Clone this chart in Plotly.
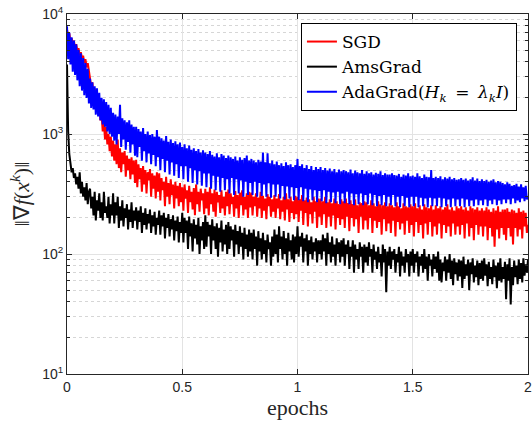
import numpy as np
import plotly.graph_objects as go

# epochs axis: 401 samples from 0 to 2
epochs = np.linspace(0, 2, 401)

# gradient norm values (step 0.005 epoch, 20 per row)
sgd = [
    7400, 6600, 6900, 5900, 6300, 5600, 6000, 5200, 5600, 4900, 5200, 4500, 4800, 4300, 4500, 3900, 4200, 3600, 3900, 3300,
    3000, 2500, 2700, 2200, 2400, 1900, 2100, 1600, 1800, 1300, 1450, 1050, 1250, 900, 1150, 820, 1000, 720, 950, 650,
    880, 600, 820, 560, 900, 520, 760, 480, 700, 560, 720, 440, 660, 500, 620, 420, 640, 460, 600, 390,
    610, 360, 560, 420, 520, 330, 540, 380, 500, 320, 480, 410, 510, 300, 470, 350, 450, 290, 480, 330,
    470, 280, 430, 340, 400, 250, 440, 300, 390, 260, 420, 310, 380, 240, 400, 290, 370, 250, 390, 270,
    360, 230, 380, 290, 340, 220, 370, 270, 330, 235, 355, 210, 380, 260, 330, 225, 350, 280, 320, 215,
    350, 240, 330, 210, 360, 260, 320, 225, 345, 205, 330, 270, 310, 220, 340, 240, 300, 210, 330, 250,
    345, 215, 320, 260, 300, 205, 335, 240, 310, 200, 325, 255, 340, 210, 300, 235, 320, 200, 330, 245,
    325, 210, 300, 250, 320, 205, 295, 240, 330, 200, 305, 230, 290, 195, 315, 250, 300, 205, 285, 225,
    310, 200, 290, 240, 315, 195, 280, 225, 300, 190, 320, 235, 285, 185, 300, 220, 275, 195, 305, 215,
    300, 185, 285, 230, 310, 175, 280, 220, 295, 170, 285, 215, 270, 180, 300, 225, 275, 165, 290, 205,
    290, 175, 275, 215, 300, 165, 270, 205, 285, 170, 265, 210, 290, 160, 275, 200, 260, 175, 285, 195,
    275, 165, 290, 205, 265, 155, 280, 200, 260, 170, 285, 195, 255, 150, 270, 205, 265, 160, 275, 190,
    270, 160, 255, 200, 280, 150, 265, 190, 250, 165, 275, 185, 260, 145, 255, 195, 270, 155, 250, 180,
    265, 150, 255, 190, 245, 140, 270, 185, 250, 160, 240, 180, 265, 145, 250, 190, 245, 150, 260, 175,
    250, 140, 265, 185, 240, 150, 255, 175, 235, 135, 260, 180, 245, 145, 240, 185, 255, 140, 235, 170,
    255, 145, 240, 180, 250, 135, 235, 175, 245, 150, 260, 170, 235, 140, 245, 180, 230, 145, 250, 170,
    240, 145, 250, 175, 235, 135, 245, 180, 230, 140, 250, 165, 240, 130, 235, 175, 245, 145, 230, 170,
    240, 140, 230, 170, 245, 130, 235, 165, 225, 140, 240, 115, 230, 160, 250, 135, 225, 165, 235, 145,
    235, 130, 240, 165, 225, 140, 235, 120, 230, 165, 220, 140, 240, 160, 225, 135, 230, 170, 220, 150,
    175,
]

amsgrad = [
    3800, 1050, 680, 560, 480, 520, 430, 470, 380, 440, 350, 480, 320, 400, 300, 360, 280, 390, 260, 330,
    350, 240, 300, 210, 330, 190, 280, 230, 320, 200, 270, 190, 330, 220, 250, 200, 300, 180, 260, 210,
    320, 180, 270, 210, 300, 165, 250, 190, 280, 170, 240, 200, 260, 160, 235, 185, 270, 165, 230, 190,
    245, 160, 230, 185, 250, 150, 220, 175, 240, 160, 215, 180, 235, 150, 210, 170, 225, 145, 200, 175,
    230, 145, 210, 170, 220, 135, 200, 165, 215, 140, 195, 160, 210, 130, 190, 155, 205, 125, 185, 150,
    220, 125, 200, 150, 190, 110, 205, 140, 180, 105, 195, 135, 175, 120, 200, 100, 170, 130, 185, 110,
    210, 115, 185, 140, 175, 100, 195, 130, 170, 110, 180, 95, 165, 125, 190, 105, 160, 120, 175, 100,
    185, 110, 170, 130, 160, 95, 175, 120, 155, 100, 170, 115, 150, 90, 165, 110, 145, 95, 160, 105,
    150, 90, 160, 110, 140, 80, 155, 105, 135, 90, 150, 100, 130, 85, 145, 110, 125, 80, 140, 95,
    160, 100, 145, 85, 170, 110, 140, 90, 155, 100, 135, 80, 150, 105, 130, 90, 145, 85, 140, 100,
    170, 95, 140, 115, 150, 85, 135, 105, 145, 80, 130, 100, 140, 90, 125, 105, 135, 85, 130, 100,
    130, 90, 145, 105, 135, 80, 150, 100, 125, 85, 140, 95, 120, 80, 135, 100, 125, 85, 130, 95,
    135, 80, 120, 100, 130, 75, 115, 95, 130, 70, 120, 90, 110, 75, 125, 95, 115, 70, 120, 85,
    115, 80, 125, 95, 110, 70, 120, 90, 105, 75, 115, 85, 100, 65, 120, 85, 110, 48, 105, 80,
    115, 75, 105, 90, 110, 70, 100, 85, 115, 65, 105, 80, 95, 70, 110, 85, 100, 65, 105, 80,
    110, 70, 100, 85, 105, 65, 95, 80, 100, 70, 110, 75, 95, 60, 100, 80, 90, 65, 100, 75,
    95, 70, 105, 60, 90, 58, 85, 72, 95, 60, 90, 70, 100, 62, 88, 55, 92, 68, 85, 60,
    90, 65, 88, 52, 95, 62, 82, 66, 90, 50, 85, 68, 92, 58, 80, 64, 88, 55, 84, 62,
    88, 60, 92, 66, 82, 54, 86, 62, 78, 56, 90, 64, 80, 52, 85, 60, 92, 58, 78, 62,
    86, 42, 82, 60, 92, 38, 78, 55, 88, 64, 80, 56, 90, 62, 84, 58, 92, 66, 82, 70,
    90,
]

adagrad = [
    7900, 4200, 7000, 3800, 6400, 3300, 6000, 3100, 5600, 2800, 5000, 2500, 4700, 2300, 4300, 2100, 3900, 2000, 3500, 1800,
    2900, 1650, 2700, 1600, 2500, 1450, 2400, 1400, 2200, 1300, 2000, 1200, 1950, 1150, 1850, 1050, 1750, 1000, 1650, 950,
    1500, 880, 1450, 820, 1400, 1000, 1750, 780, 1350, 900, 1300, 740, 1250, 860, 1300, 700, 1200, 820, 1150, 660,
    1150, 640, 1100, 780, 1050, 600, 1120, 720, 1000, 580, 1050, 690, 980, 560, 1000, 670, 950, 540, 1080, 640,
    950, 500, 920, 620, 880, 480, 960, 600, 860, 460, 900, 580, 840, 450, 870, 560, 820, 430, 850, 540,
    780, 420, 820, 540, 760, 400, 800, 520, 740, 390, 760, 500, 720, 380, 750, 490, 700, 370, 730, 470,
    700, 360, 680, 470, 720, 350, 670, 450, 650, 340, 690, 440, 640, 330, 680, 430, 660, 340, 630, 420,
    660, 320, 640, 430, 620, 310, 650, 420, 600, 320, 640, 410, 610, 300, 630, 400, 660, 310, 600, 390,
    620, 310, 600, 400, 580, 300, 610, 390, 590, 305, 700, 380, 580, 300, 690, 390, 570, 295, 600, 380,
    560, 300, 590, 380, 550, 290, 570, 370, 540, 285, 580, 365, 550, 290, 560, 360, 530, 280, 550, 355,
    620, 280, 540, 360, 560, 275, 520, 350, 550, 270, 510, 345, 540, 280, 500, 340, 530, 270, 510, 335,
    530, 275, 500, 340, 520, 265, 495, 330, 515, 270, 490, 325, 510, 265, 480, 330, 505, 260, 490, 320,
    500, 265, 490, 330, 480, 260, 505, 320, 470, 255, 495, 315, 480, 260, 470, 320, 500, 255, 465, 310,
    490, 260, 470, 320, 480, 255, 460, 310, 475, 250, 465, 305, 490, 255, 455, 310, 470, 250, 460, 300,
    460, 255, 470, 310, 455, 250, 450, 300, 465, 245, 440, 305, 460, 250, 450, 295, 470, 245, 445, 300,
    450, 250, 440, 300, 470, 245, 445, 295, 430, 250, 460, 290, 440, 245, 435, 295, 500, 250, 430, 290,
    440, 250, 430, 295, 445, 245, 420, 290, 435, 250, 425, 285, 440, 245, 420, 290, 430, 250, 415, 285,
    420, 250, 430, 290, 415, 245, 425, 285, 410, 250, 420, 280, 435, 250, 410, 285, 425, 255, 405, 280,
    420, 255, 405, 285, 415, 250, 400, 280, 410, 260, 420, 285, 395, 255, 405, 280, 400, 260, 390, 285,
    380, 265, 395, 285, 385, 260, 370, 290, 375, 265, 385, 280, 365, 270, 380, 290, 360, 275, 370, 285,
    300,
]

names = ["SGD", "AmsGrad",
         "AdaGrad(<i>H<sub>k</sub></i>\u2002=\u2002<i>λ<sub>k</sub>I</i>)"]
colors = ["#ff0000", "#000000", "#0000ff"]

serif = "DejaVu Serif, Liberation Serif, serif"
serif_t = "Liberation Serif, Times New Roman, serif"
sans = "Liberation Sans, Arial, sans-serif"
axcol = "#262626"

fig = go.Figure()
for name, ys, c in zip(names, [sgd, amsgrad, adagrad], colors):
    fig.add_trace(go.Scatter(x=epochs, y=ys, mode="lines", name=name,
                             line=dict(color=c, width=2)))

fig.update_xaxes(
    range=[0, 2], tickvals=[0, 0.5, 1, 1.5, 2], ticktext=["0", "0.5", "1", "1.5", "2"],
    showline=True, linecolor=axcol, linewidth=1, mirror="ticks",
    ticks="inside", ticklen=5, tickcolor=axcol, ticklabeloverflow="allow",
    showgrid=True, gridcolor="#e3e3e3", zeroline=False, automargin=False,
    tickfont=dict(family=sans, size=14, color=axcol),
    title=dict(text="epochs", font=dict(family=serif_t, size=22, color=axcol), standoff=2),
)
fig.update_yaxes(
    type="log", range=[1, 4],
    tickvals=[10, 100, 1000, 10000],
    ticktext=["10<sup>1</sup>", "10<sup>2</sup>", "10<sup>3</sup>", "10<sup>4</sup>"],
    showline=True, linecolor=axcol, linewidth=1, mirror="ticks",
    ticks="inside", ticklen=5, tickcolor=axcol, ticklabeloverflow="allow",
    showgrid=True, gridcolor="#e3e3e3", zeroline=False, automargin=False,
    minor=dict(dtick="D1", ticks="inside", ticklen=3, tickcolor=axcol,
               showgrid=True, gridcolor="#d6d6d6", griddash="dot"),
    tickfont=dict(family=sans, size=14, color=axcol),
    title=dict(text="‖∇<i>f</i>(<i>x<sup>k</sup></i>)‖",
               font=dict(family=serif_t, size=22, color=axcol), standoff=6),
)

fig.update_layout(
    width=532, height=423,
    margin=dict(l=67, r=4, t=14, b=49),
    paper_bgcolor="white", plot_bgcolor="white",
    showlegend=True,
    legend=dict(x=0.976, y=0.975, xanchor="right", yanchor="top",
                bgcolor="white", bordercolor="#000000", borderwidth=1,
                font=dict(family=serif, size=17, color="#000000"),
                tracegroupgap=0, itemwidth=30),
)

# drop the default 8px body margin so the figure fills the window
fig.write_html("out.html", config={"displayModeBar": False},
               post_script="document.body.style.margin='0';")
